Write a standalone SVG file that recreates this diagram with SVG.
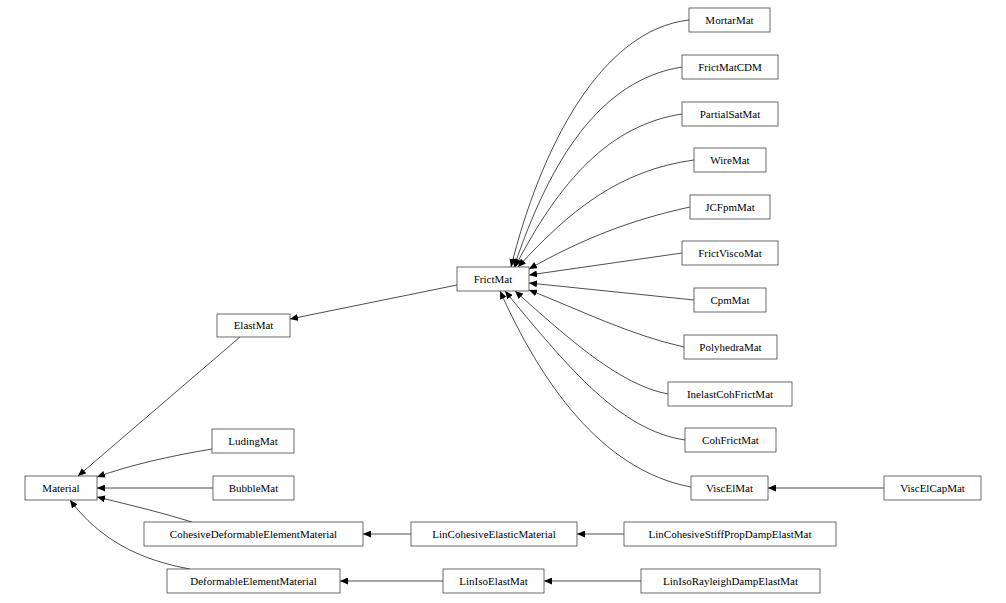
<svg xmlns="http://www.w3.org/2000/svg" width="1006" height="603" viewBox="0 0 1006 603">
<style>
.n rect{fill:#fff;stroke:#444;stroke-width:0.8}
text{font-family:"Liberation Serif",serif;font-size:11px;text-anchor:middle;fill:#000}
#edges path{fill:none;stroke:#000;stroke-width:0.7}
</style>
<defs><marker id="a" markerWidth="9" markerHeight="7" refX="8" refY="3.5" orient="auto" markerUnits="userSpaceOnUse"><path d="M0,0L8,3.5L0,7z" fill="#000"/></marker></defs>
<rect width="1006" height="603" fill="#fff"/>
<g id="edges" marker-end="url(#a)">
<path d="M457,285L290,319"/>
<path d="M240,337L78,476"/>
<path d="M212,449C170,456 130,465 97,477"/>
<path d="M213,488L97,488"/>
<path d="M192,522C160,512 130,505 97,497"/>
<path d="M190,569C140,560 100,540 70,500"/>
<path d="M411,534L363,534"/>
<path d="M443,581L340,581"/>
<path d="M624,534L577,534"/>
<path d="M641,581L544,581"/>
<path d="M884,488L768,488"/>
<path d="M691,487C600,470 540,380 500,291"/>
<path d="M689,20C600,30 540,150 511,267"/>
<path d="M682,67C600,80 550,160 514,267"/>
<path d="M682,114C610,125 560,180 515,267"/>
<path d="M694,160C620,170 570,210 518,267"/>
<path d="M690,207C630,220 580,240 529,269"/>
<path d="M682,253L529,275"/>
<path d="M694,300L529,283"/>
<path d="M684,347C630,335 580,310 529,290"/>
<path d="M668,394C620,385 570,340 515,291"/>
<path d="M685,440C620,430 570,370 505,291"/>
</g>
<g class="n" id="Material"><rect x="25" y="476" width="72" height="24"/><text x="61" y="492">Material</text></g>
<g class="n" id="ElastMat"><rect x="217" y="314" width="73" height="23"/><text x="253.5" y="329">ElastMat</text></g>
<g class="n" id="LudingMat"><rect x="212" y="429" width="82" height="24"/><text x="253" y="445">LudingMat</text></g>
<g class="n" id="BubbleMat"><rect x="213" y="476" width="81" height="24"/><text x="253.5" y="492">BubbleMat</text></g>
<g class="n" id="CohesiveDeformableElementMaterial"><rect x="144" y="522" width="219" height="24"/><text x="253.5" y="538">CohesiveDeformableElementMaterial</text></g>
<g class="n" id="DeformableElementMaterial"><rect x="167" y="569" width="173" height="24"/><text x="253.5" y="585">DeformableElementMaterial</text></g>
<g class="n" id="LinCohesiveElasticMaterial"><rect x="411" y="522" width="166" height="24"/><text x="494" y="538">LinCohesiveElasticMaterial</text></g>
<g class="n" id="LinIsoElastMat"><rect x="443" y="569" width="101" height="24"/><text x="493.5" y="585">LinIsoElastMat</text></g>
<g class="n" id="LinCohesiveStiffPropDampElastMat"><rect x="624" y="522" width="212" height="24"/><text x="730" y="538">LinCohesiveStiffPropDampElastMat</text></g>
<g class="n" id="LinIsoRayleighDampElastMat"><rect x="641" y="569" width="179" height="24"/><text x="730.5" y="585">LinIsoRayleighDampElastMat</text></g>
<g class="n" id="FrictMat"><rect x="457" y="267" width="72" height="24"/><text x="493" y="283">FrictMat</text></g>
<g class="n" id="ViscElMat"><rect x="691" y="476" width="77" height="24"/><text x="729.5" y="492">ViscElMat</text></g>
<g class="n" id="ViscElCapMat"><rect x="884" y="476" width="97" height="24"/><text x="932.5" y="492">ViscElCapMat</text></g>
<g class="n" id="MortarMat"><rect x="689" y="8" width="81" height="24"/><text x="729.5" y="24">MortarMat</text></g>
<g class="n" id="FrictMatCDM"><rect x="682" y="55" width="96" height="24"/><text x="730" y="71">FrictMatCDM</text></g>
<g class="n" id="PartialSatMat"><rect x="682" y="102" width="96" height="24"/><text x="730" y="118">PartialSatMat</text></g>
<g class="n" id="WireMat"><rect x="694" y="148" width="72" height="24"/><text x="730" y="164">WireMat</text></g>
<g class="n" id="JCFpmMat"><rect x="690" y="195" width="80" height="24"/><text x="730" y="211">JCFpmMat</text></g>
<g class="n" id="FrictViscoMat"><rect x="682" y="241" width="96" height="24"/><text x="730" y="257">FrictViscoMat</text></g>
<g class="n" id="CpmMat"><rect x="694" y="288" width="72" height="24"/><text x="730" y="304">CpmMat</text></g>
<g class="n" id="PolyhedraMat"><rect x="684" y="335" width="93" height="24"/><text x="730.5" y="351">PolyhedraMat</text></g>
<g class="n" id="InelastCohFrictMat"><rect x="668" y="382" width="124" height="24"/><text x="730" y="398">InelastCohFrictMat</text></g>
<g class="n" id="CohFrictMat"><rect x="685" y="428" width="91" height="24"/><text x="730.5" y="444">CohFrictMat</text></g>
</svg>
